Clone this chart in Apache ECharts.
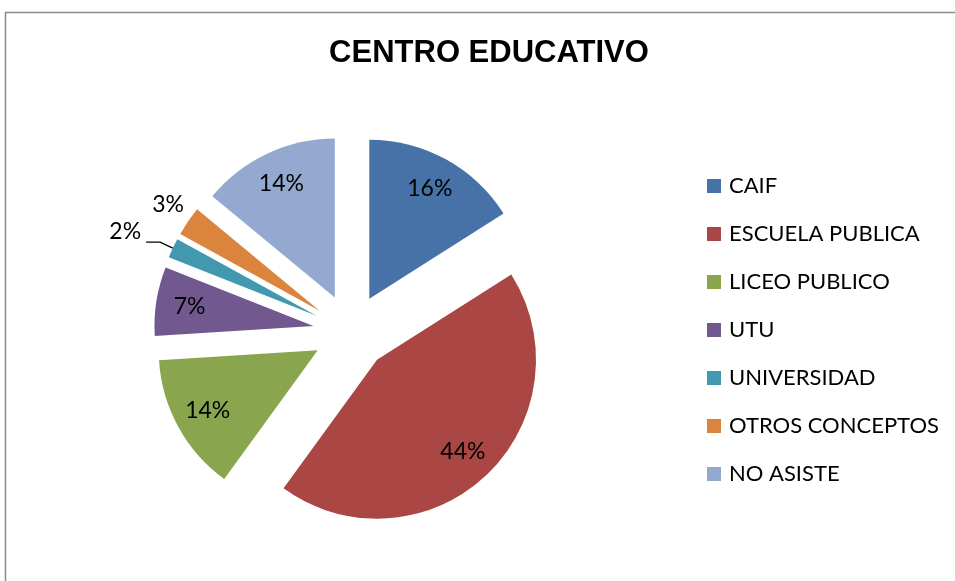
<!DOCTYPE html>
<html><head><meta charset="utf-8">
<script src="https://cdn.jsdelivr.net/npm/echarts@6/dist/echarts.min.js"></script>
<style>html,body{margin:0;padding:0;background:#fff}#c{width:955px;height:581px}</style>
</head><body><div id="c"></div>
<script>
const titleText = 'CENTRO EDUCATIVO';
const categories = ['CAIF','ESCUELA PUBLICA','LICEO PUBLICO','UTU','UNIVERSIDAD','OTROS CONCEPTOS','NO ASISTE'];
const values = [16, 44, 14, 7, 2, 3, 14];
const colors = ['#4672a8','#aa4643','#89a54e','#71588f','#4198af','#db843d','#93a9cf'];

const FONT = 'Lato';
const R = 159;
const center = [351, 332];
const offset = 38;

const mainData = categories.map((n,i)=>({name:n, value:values[i], selected:true, itemStyle:{color:colors[i]}}));
const labelData = categories.map((n,i)=>{
  const d = {name:n, value:values[i], selected:true};
  if (n === 'UNIVERSIDAD') {
    d.label = {position:'outside', formatter:'{t|{d}%}\n{s| }',
      rich:{t:{fontFamily:FONT, fontSize:23, lineHeight:26, color:'#000'}, s:{fontSize:1, lineHeight:22}}};
    d.labelLine = {show:true, length:14, length2:14, lineStyle:{color:'#000', width:1.3}};
  } else if (n === 'OTROS CONCEPTOS') {
    d.label = {position:'outside', distanceToLabelLine:0, formatter:'{t|{d}%}\n{s| }',
      rich:{t:{fontFamily:FONT, fontSize:23, lineHeight:26, color:'#000'}, s:{fontSize:1, lineHeight:28}}};
    d.labelLine = {show:false, length:5, length2:0};
  }
  return d;
});

const chart = echarts.init(document.getElementById('c'), null, {renderer:'canvas'});
chart.setOption({
  animation:false,
  backgroundColor:'#fff',
  title:{text:titleText, left:489, textAlign:'center', top:38, padding:0,
    textStyle:{fontFamily:'Liberation Sans', fontWeight:'bold', fontSize:31, color:'#000'}},
  legend:{orient:'vertical', left:702, top:168, padding:5, itemWidth:14, itemHeight:14, itemGap:22,
    icon:'rect', data:categories, selectedMode:false,
    textStyle:{fontFamily:FONT, fontSize:22, lineHeight:26, color:'#000', padding:[0,0,0,3]}},
  graphic:[{type:'rect', shape:{x:5.5, y:12.5, width:1200, height:1000}, style:{fill:null, stroke:'#8a8a8a', lineWidth:1.5}, silent:true}],
  series:[
    {type:'pie', center:center, radius:[0,R], startAngle:90, clockwise:true,
     selectedMode:'multiple', selectedOffset:offset, silent:true, label:{show:false}, labelLine:{show:false},
     emphasis:{disabled:true}, data:mainData},
    {type:'pie', center:center, radius:[86,R], startAngle:90, clockwise:true,
     selectedMode:'multiple', selectedOffset:offset, silent:true, avoidLabelOverlap:false,
     itemStyle:{color:'rgba(0,0,0,0)'}, emphasis:{disabled:true},
     label:{show:true, position:'inside', formatter:'{d}%', fontFamily:FONT, fontSize:23, color:'#000'},
     labelLine:{show:false},
     data:labelData}
  ]
});
</script></body></html>
